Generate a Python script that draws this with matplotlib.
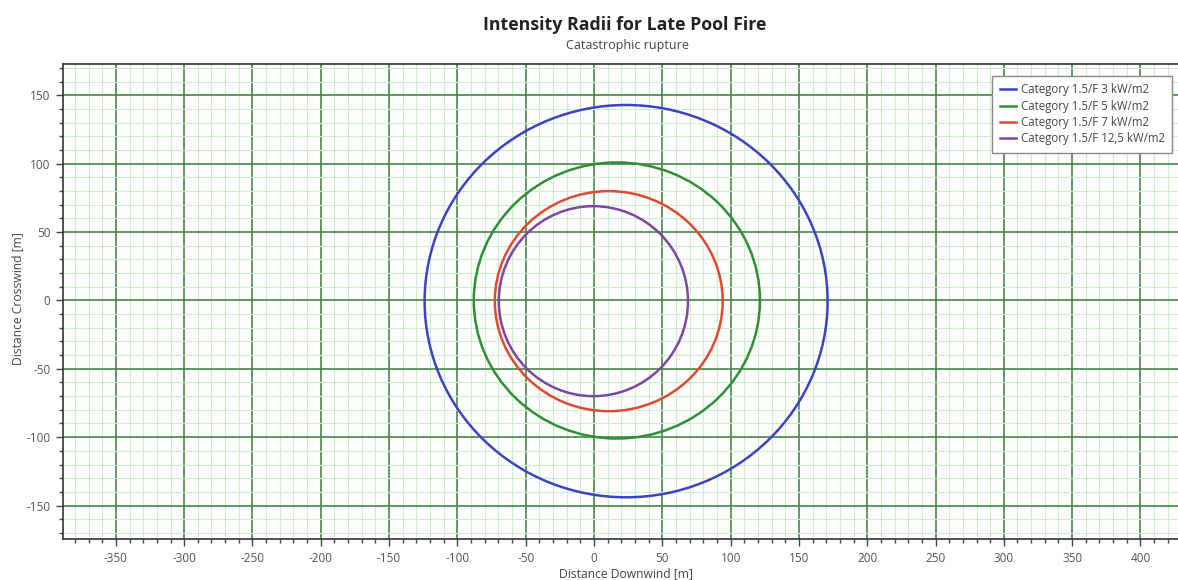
import matplotlib
matplotlib.use("Agg")
import matplotlib.pyplot as plt
from matplotlib.patches import Ellipse
from matplotlib.lines import Line2D
from matplotlib.ticker import MultipleLocator

plt.rcParams['font.family'] = ['Open Sans', 'DejaVu Sans']
plt.rcParams['axes.unicode_minus'] = False

# contour extents (metres)
labels = ['Category 1.5/F 3 kW/m2', 'Category 1.5/F 5 kW/m2',
          'Category 1.5/F 7 kW/m2', 'Category 1.5/F 12,5 kW/m2']
downwind_min = [-124.0, -88.0, -72.6, -69.7]
downwind_max = [171.0, 121.5, 94.2, 68.8]
crosswind_max = [143.0, 101.0, 80.0, 69.0]
crosswind_min = [-144.0, -101.0, -81.0, -70.0]
colors = ['#3b43c4', '#2f8f35', '#e04a30', '#7d45a6']

x_ticks = list(range(-350, 401, 50))
y_ticks = list(range(-150, 151, 50))

fig = plt.figure(figsize=(11.78, 5.8), dpi=100)
ax = fig.add_axes([63 / 1178, 1 - 539 / 580, 1 - 63 / 1178, (539 - 64) / 580])

ax.set_xlim(-388.7, 427.5)
ax.set_ylim(-174.5, 173.0)

ax.xaxis.set_minor_locator(MultipleLocator(10))
ax.yaxis.set_minor_locator(MultipleLocator(10))
ax.set_xticks(x_ticks)
ax.set_yticks(y_ticks)

ax.grid(which='minor', color='#cdeecd', linewidth=0.8)
ax.grid(which='major', color='#468846', linewidth=1.2)
ax.set_axisbelow(True)

ax.tick_params(which='major', direction='out', length=5, width=1, color='#444444',
               labelsize=8.5, labelcolor='#555555', pad=4)
ax.tick_params(which='minor', direction='out', length=3, width=1, color='#444444')
ax.spines['right'].set_visible(False)
for side in ['left', 'bottom', 'top']:
    ax.spines[side].set_color('#333333')
    ax.spines[side].set_linewidth(1.2)

handles = []
for lab, x0, x1, y1, y0, c in zip(labels, downwind_min, downwind_max,
                                    crosswind_max, crosswind_min, colors):
    e = Ellipse(((x0 + x1) / 2, (y0 + y1) / 2), x1 - x0, y1 - y0,
                fill=False, edgecolor=c, linewidth=1.8, zorder=3)
    ax.add_patch(e)
    handles.append(Line2D([], [], color=c, linewidth=1.8, label=lab))

leg = ax.legend(handles=handles, loc='upper right',
                bbox_to_anchor=(1172 / 1178, 1 - 76 / 580),
                bbox_transform=fig.transFigure, borderaxespad=0,
                fontsize=8.3, frameon=True, fancybox=False, framealpha=1,
                handlelength=1.4, handletextpad=0.4, labelspacing=0.28,
                borderpad=0.65, labelcolor='#444444')
leg.get_frame().set_edgecolor('#888888')
leg.get_frame().set_linewidth(1.0)

fig.text(625 / 1178, 1 - 25 / 580, 'Intensity Radii for Late Pool Fire',
         ha='center', va='center', fontsize=12.8, fontweight='bold', color='#222222')
fig.text(627 / 1178, 1 - 45 / 580, 'Catastrophic rupture',
         ha='center', va='center', fontsize=9, color='#444444')
fig.text(626 / 1178, 1 - 574 / 580, 'Distance Downwind [m]',
         ha='center', va='center', fontsize=8.7, color='#444444')
fig.text(18 / 1178, 1 - 299 / 580, 'Distance Crosswind [m]',
         ha='center', va='center', rotation=90, fontsize=8.7, color='#444444')

fig.savefig('out.png', dpi=100)
